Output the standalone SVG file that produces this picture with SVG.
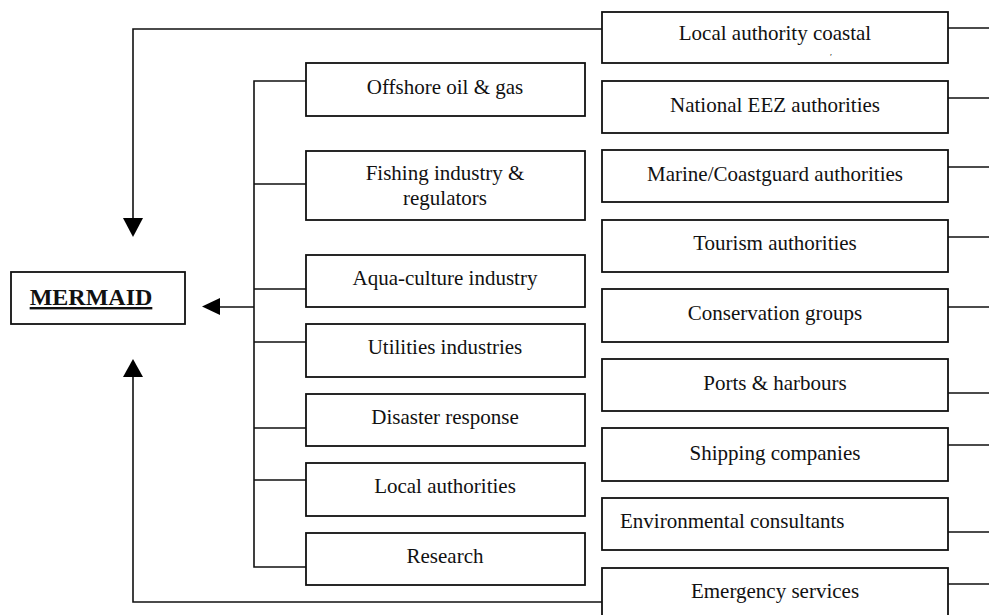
<svg xmlns="http://www.w3.org/2000/svg" width="989" height="615" viewBox="0 0 989 615">
<style>
.box{fill:#fff;stroke:#111;stroke-width:1.8}
.ln{fill:none;stroke:#111;stroke-width:1.6}
.ah{fill:#000;stroke:none}
text{font-family:"Liberation Serif","Times New Roman",serif;font-size:21px;fill:#111}
.c{text-anchor:middle}
.title{font-weight:bold;font-size:24px;text-decoration:underline}
</style>
<rect width="989" height="615" fill="#fff"/>
<g id="connectors">
<path class="ln" d="M602 29 H133 V220"/>
<polygon class="ah" points="123,218 143,218 133,237"/>
<path class="ln" d="M602 602 H133 V375"/>
<polygon class="ah" points="123,377 143,377 133,359"/>
<path class="ln" d="M306 81 H254 V567 H306 M254 184 H306 M254 289 H306 M254 342 H306 M254 428 H306 M254 480 H306 M254 307 H220"/>
<polygon class="ah" points="220,298 220,315 202,306.5"/>
<path class="ln" d="M948 28 H989 M948 98 H989 M948 167 H989 M948 237 H989 M948 307 H989 M948 393 H989 M948 445 H989 M948 532 H989 M948 584 H989"/>
</g>
<g id="mermaid"><rect class="box" x="11" y="272" width="174" height="52"/><text class="c title" x="91" y="305">MERMAID</text></g>
<g id="offshore"><rect class="box" x="306" y="63" width="279" height="53"/><text class="c" x="445" y="94">Offshore oil &amp; gas</text></g>
<g id="fishing"><rect class="box" x="306" y="151" width="279" height="69"/><text class="c" x="445" y="180">Fishing industry &amp;</text><text class="c" x="445" y="205">regulators</text></g>
<g id="aqua"><rect class="box" x="306" y="255" width="279" height="52"/><text class="c" x="445" y="285">Aqua-culture industry</text></g>
<g id="utilities"><rect class="box" x="306" y="324" width="279" height="53"/><text class="c" x="445" y="354">Utilities industries</text></g>
<g id="disaster"><rect class="box" x="306" y="394" width="279" height="52"/><text class="c" x="445" y="424">Disaster response</text></g>
<g id="localauth"><rect class="box" x="306" y="463" width="279" height="53"/><text class="c" x="445" y="493">Local authorities</text></g>
<g id="research"><rect class="box" x="306" y="533" width="279" height="52"/><text class="c" x="445" y="563">Research</text></g>
<g id="coastal"><rect class="box" x="602" y="12" width="346" height="51"/><text class="c" x="775" y="40">Local authority coastal</text><text x="830" y="60" style="font-size:9px">ʹ</text></g>
<g id="eez"><rect class="box" x="602" y="81" width="346" height="52"/><text class="c" x="775" y="112">National EEZ  authorities</text></g>
<g id="marine"><rect class="box" x="602" y="150" width="346" height="52"/><text class="c" x="775" y="181">Marine/Coastguard authorities</text></g>
<g id="tourism"><rect class="box" x="602" y="220" width="346" height="52"/><text class="c" x="775" y="250">Tourism authorities</text></g>
<g id="conservation"><rect class="box" x="602" y="289" width="346" height="53"/><text class="c" x="775" y="320">Conservation groups</text></g>
<g id="ports"><rect class="box" x="602" y="359" width="346" height="52"/><text class="c" x="775" y="390">Ports &amp; harbours</text></g>
<g id="shipping"><rect class="box" x="602" y="428" width="346" height="53"/><text class="c" x="775" y="460">Shipping companies</text></g>
<g id="environmental"><rect class="box" x="602" y="498" width="346" height="52"/><text x="620" y="528">Environmental consultants</text></g>
<g id="emergency"><rect class="box" x="602" y="568" width="346" height="60"/><text class="c" x="775" y="598">Emergency services</text></g>
</svg>
